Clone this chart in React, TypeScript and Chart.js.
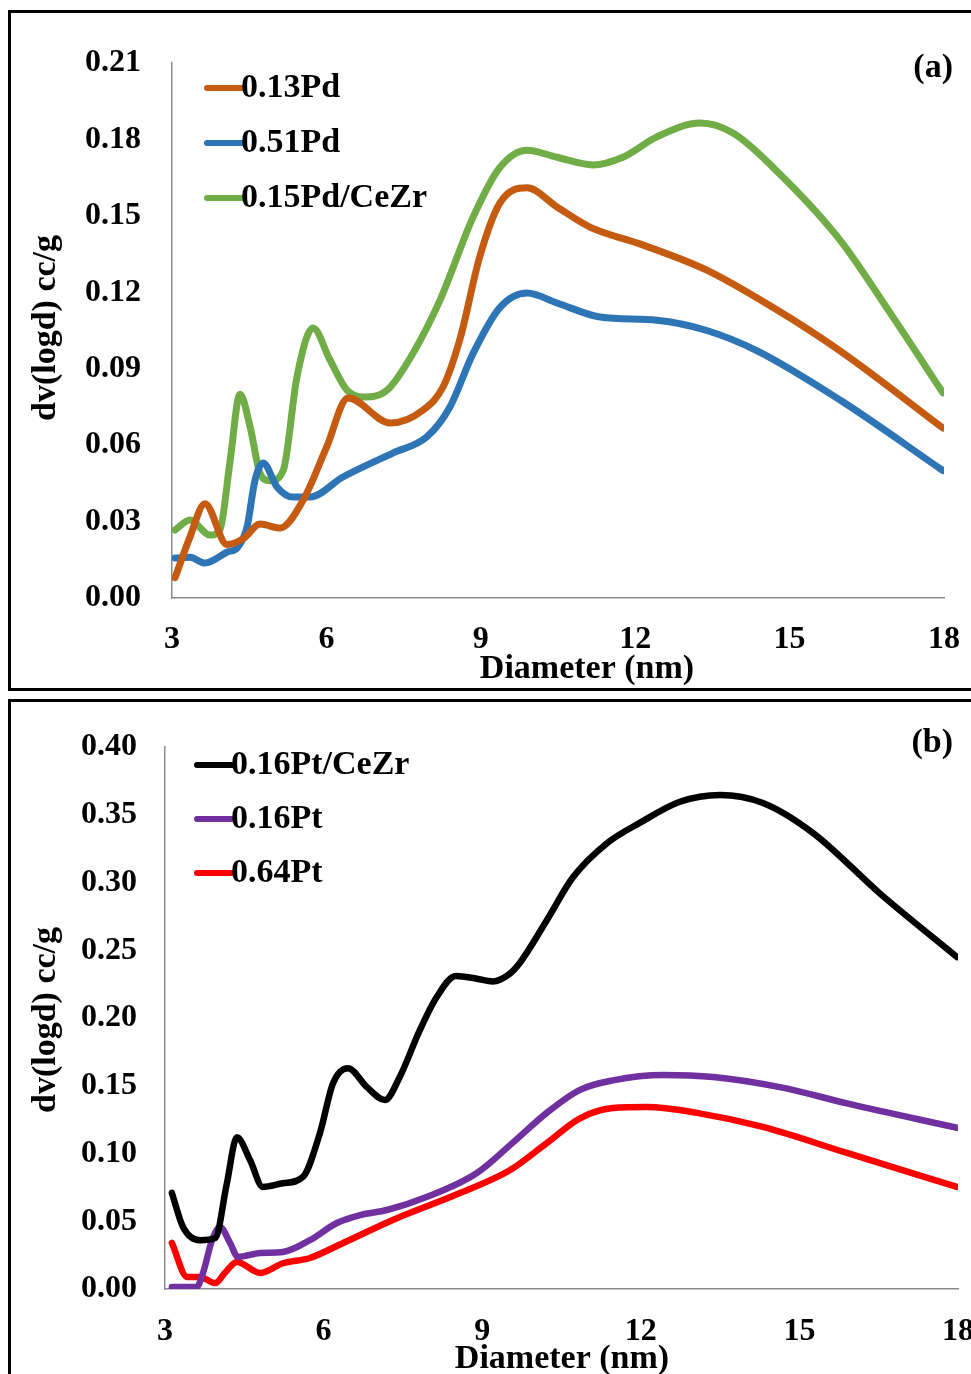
import React, { useEffect, useRef } from "react";
import { Chart, registerables } from "chart.js";

Chart.register(...registerables);

const FONT = '"Liberation Serif", "Times New Roman", Times, serif';

// ---------- Panel (a) ----------
const xTicksA = [3, 6, 9, 12, 15, 18];
const yTicksA = [0, 0.03, 0.06, 0.09, 0.12, 0.15, 0.18, 0.21];

const x013Pd = [3.06, 3.35, 3.64, 4.07, 4.4, 4.71, 5.1, 5.55, 6.0, 6.42, 7.24, 7.88, 8.27, 8.6, 8.98, 9.37, 9.9, 10.48, 11.12, 12.09, 13.39, 14.68, 15.98, 17.98];
const y013Pd = [0.008, 0.024, 0.037, 0.021, 0.0235, 0.029, 0.0275, 0.0385, 0.059, 0.0785, 0.0687, 0.0738, 0.083, 0.102, 0.134, 0.155, 0.161, 0.1535, 0.1456, 0.139, 0.1287, 0.114, 0.097, 0.0667];

const x051Pd = [3.06, 3.35, 3.64, 4.07, 4.28, 4.46, 4.61, 4.77, 5.04, 5.35, 5.68, 6.32, 7.29, 7.95, 8.4, 8.85, 9.37, 9.9, 10.48, 11.32, 12.42, 13.39, 14.37, 15.98, 17.98];
const y051Pd = [0.0157, 0.016, 0.0137, 0.018, 0.02, 0.028, 0.046, 0.053, 0.0436, 0.0396, 0.0396, 0.0475, 0.0569, 0.0632, 0.075, 0.096, 0.114, 0.1197, 0.1158, 0.1103, 0.109, 0.105, 0.097, 0.0777, 0.05];

const x015PdCeZr = [3.06, 3.35, 3.74, 3.93, 4.13, 4.32, 4.52, 4.71, 4.9, 5.16, 5.43, 5.74, 6.07, 6.4, 6.71, 7.18, 7.68, 8.21, 8.85, 9.37, 9.9, 10.48, 11.18, 11.76, 12.42, 13.26, 13.9, 14.68, 15.98, 16.95, 17.98];
const y015PdCeZr = [0.0267, 0.0306, 0.0247, 0.0267, 0.054, 0.08, 0.067, 0.049, 0.046, 0.05, 0.087, 0.106, 0.0934, 0.0816, 0.0789, 0.0816, 0.096, 0.117, 0.1495, 0.169, 0.1758, 0.173, 0.17, 0.173, 0.181, 0.1864, 0.1825, 0.169, 0.1405, 0.112, 0.0805];

// ---------- Panel (b) ----------
const xTicksB = [3, 6, 9, 12, 15, 18];
const yTicksB = [0, 0.05, 0.1, 0.15, 0.2, 0.25, 0.3, 0.35, 0.4];

const x016PtCeZr = [3.13, 3.34, 3.66, 3.95, 4.17, 4.36, 4.61, 4.85, 5.23, 5.61, 5.93, 6.18, 6.46, 6.82, 7.16, 7.44, 7.82, 8.14, 8.5, 8.9, 9.2, 9.5, 9.71, 10.22, 10.72, 11.36, 11.98, 12.74, 13.5, 14.31, 15.26, 16.52, 17.98];
const y016PtCeZr = [0.0709, 0.0458, 0.036, 0.0376, 0.078, 0.112, 0.095, 0.0753, 0.078, 0.0827, 0.115, 0.152, 0.163, 0.149, 0.1395, 0.1565, 0.191, 0.2155, 0.231, 0.229, 0.227, 0.232, 0.2406, 0.272, 0.304, 0.329, 0.344, 0.3596, 0.3646, 0.3587, 0.3365, 0.292, 0.245];

const x016Pt = [3.13, 3.6, 3.72, 3.89, 4.04, 4.23, 4.38, 4.8, 5.23, 5.74, 6.25, 6.69, 7.2, 7.96, 8.9, 9.58, 10.22, 10.85, 11.47, 12.42, 13.37, 14.63, 15.9, 17.98];
const y016Pt = [0.0015, 0.0015, 0.012, 0.036, 0.0458, 0.034, 0.0236, 0.0266, 0.0273, 0.036, 0.0487, 0.0546, 0.0583, 0.068, 0.0856, 0.108, 0.13, 0.147, 0.154, 0.158, 0.1565, 0.149, 0.137, 0.119];

const x064Pt = [3.13, 3.42, 3.66, 3.95, 4.13, 4.36, 4.8, 5.23, 5.74, 6.37, 7.31, 8.58, 9.53, 10.22, 10.85, 11.47, 12.12, 13.06, 14.31, 15.9, 17.98];
const y064Pt = [0.034, 0.0089, 0.0089, 0.0044, 0.0118, 0.02, 0.0118, 0.019, 0.0229, 0.034, 0.051, 0.0708, 0.0878, 0.1077, 0.126, 0.1335, 0.1343, 0.13, 0.1196, 0.1004, 0.0753];

const pts = (xs: number[], ys: number[]) => xs.map((x, i) => ({ x, y: ys[i] }));

const decorPlugin = {
  id: "decor",
  afterDraw(chart: any, _args: any, opts: any) {
    const ctx = chart.ctx;
    ctx.save();
    ctx.fillStyle = "#000";
    const ds = chart.data.datasets;
    ds.forEach((d: any, i: number) => {
      const y = opts.legendY + i * opts.legendStep;
      ctx.strokeStyle = d.borderColor;
      ctx.lineWidth = 6;
      ctx.lineCap = "round";
      ctx.beginPath();
      ctx.moveTo(opts.legendX0, y);
      ctx.lineTo(opts.legendX1, y);
      ctx.stroke();
      ctx.font = `bold 34px ${FONT}`;
      ctx.textAlign = "left";
      ctx.textBaseline = "middle";
      ctx.fillText(d.label, opts.legendX1 - 1, y);
    });
    ctx.font = `bold 34px ${FONT}`;
    ctx.textAlign = "center";
    ctx.textBaseline = "middle";
    ctx.fillText(opts.xTitle, opts.xTitleX, opts.xTitleY);
    ctx.save();
    ctx.translate(opts.yTitleX, opts.yTitleY);
    ctx.rotate(-Math.PI / 2);
    ctx.fillText(opts.yTitle, 0, 0);
    ctx.restore();
    ctx.textAlign = "right";
    ctx.fillText(opts.panelLabel, opts.panelX, opts.panelY);
    ctx.restore();
  },
};

type PanelProps = {
  top: number;
  height: number;
  area: { left: number; right: number; top: number; bottom: number };
  xTicks: number[];
  yTicks: number[];
  datasets: any[];
  yPad: number;
  xPad: number;
  lineWidth: number;
  decor: any;
};

const W = 1010;

function Panel(p: PanelProps) {
  const ref = useRef<HTMLCanvasElement>(null);
  useEffect(() => {
    if (!ref.current) return;
    const tickFont = { family: FONT, size: 32, weight: "bold" as const };
    const chart = new Chart(ref.current, {
      type: "line",
      data: { datasets: p.datasets },
      options: {
        animation: false,
        responsive: false,
        devicePixelRatio: 1,
        layout: { padding: { left: 0, top: p.area.top, right: W - p.area.right, bottom: 0 } },
        elements: {
          point: { radius: 0 },
          line: { borderWidth: p.lineWidth, cubicInterpolationMode: "monotone", borderCapStyle: "round", borderJoinStyle: "round" },
        },
        plugins: {
          legend: { display: false },
          tooltip: { enabled: false },
          decor: p.decor,
        } as any,
        scales: {
          x: {
            type: "linear",
            min: p.xTicks[0],
            max: p.xTicks[p.xTicks.length - 1],
            afterBuildTicks: (s: any) => {
              s.ticks = p.xTicks.map((v) => ({ value: v }));
            },
            afterFit: (s: any) => {
              s.height = p.height - p.area.bottom;
            },
            grid: { display: false },
            border: { display: true, color: "#8a8a8a", width: 1.5 },
            ticks: { padding: p.xPad, font: tickFont, color: "#000", maxRotation: 0, autoSkip: false },
          },
          y: {
            type: "linear",
            min: p.yTicks[0],
            max: p.yTicks[p.yTicks.length - 1],
            afterBuildTicks: (s: any) => {
              s.ticks = p.yTicks.map((v) => ({ value: v }));
            },
            afterFit: (s: any) => {
              s.width = p.area.left;
            },
            grid: { display: false },
            border: { display: true, color: "#8a8a8a", width: 1.5 },
            ticks: {
              padding: p.yPad,
              font: tickFont,
              color: "#000",
              autoSkip: false,
              callback: (v: any) => Number(v).toFixed(2),
            },
          },
        },
      },
      plugins: [decorPlugin],
    });
    return () => chart.destroy();
  }, []);
  return (
    <canvas
      ref={ref}
      width={W}
      height={p.height}
      style={{ position: "absolute", left: 0, top: p.top, width: W, height: p.height }}
    />
  );
}

export default function App() {
  const dsA = [
    { label: "0.13Pd", data: pts(x013Pd, y013Pd), borderColor: "#C55A11" },
    { label: "0.51Pd", data: pts(x051Pd, y051Pd), borderColor: "#2E75B6" },
    { label: "0.15Pd/CeZr", data: pts(x015PdCeZr, y015PdCeZr), borderColor: "#70AD47" },
  ];
  const dsB = [
    { label: "0.16Pt/CeZr", data: pts(x016PtCeZr, y016PtCeZr), borderColor: "#000000" },
    { label: "0.16Pt", data: pts(x016Pt, y016Pt), borderColor: "#7030A0" },
    { label: "0.64Pt", data: pts(x064Pt, y064Pt), borderColor: "#FF0000" },
  ];
  return (
    <div style={{ position: "absolute", left: 0, top: 0, width: 971, height: 1374, overflow: "hidden", background: "#fff" }}>
      <Panel
        top={0}
        height={695}
        area={{ left: 172, right: 944, top: 63, bottom: 598 }}
        xTicks={xTicksA}
        yTicks={yTicksA}
        datasets={dsA}
        yPad={23}
        xPad={15}
        lineWidth={7}
        decor={{
          legendX0: 207, legendX1: 242, legendY: 88, legendStep: 55,
          xTitle: "Diameter (nm)", xTitleX: 587, xTitleY: 669,
          yTitle: "dv(logd) cc/g", yTitleX: 46, yTitleY: 328,
          panelLabel: "(a)", panelX: 953, panelY: 68,
        }}
      />
      <Panel
        top={695}
        height={679}
        area={{ left: 165, right: 958, top: 52, bottom: 594 }}
        xTicks={xTicksB}
        yTicks={yTicksB}
        datasets={dsB}
        yPad={20}
        xPad={16}
        lineWidth={6.5}
        decor={{
          legendX0: 197, legendX1: 232, legendY: 70, legendStep: 54,
          xTitle: "Diameter (nm)", xTitleX: 562, xTitleY: 664,
          yTitle: "dv(logd) cc/g", yTitleX: 46, yTitleY: 325,
          panelLabel: "(b)", panelX: 953, panelY: 48,
        }}
      />
      <div style={{ position: "absolute", left: 8, top: 10, width: 1000, height: 681, boxSizing: "border-box", border: "3px solid #000", pointerEvents: "none" }} />
      <div style={{ position: "absolute", left: 8, top: 699, width: 1000, height: 700, boxSizing: "border-box", border: "3px solid #000", pointerEvents: "none" }} />
    </div>
  );
}
